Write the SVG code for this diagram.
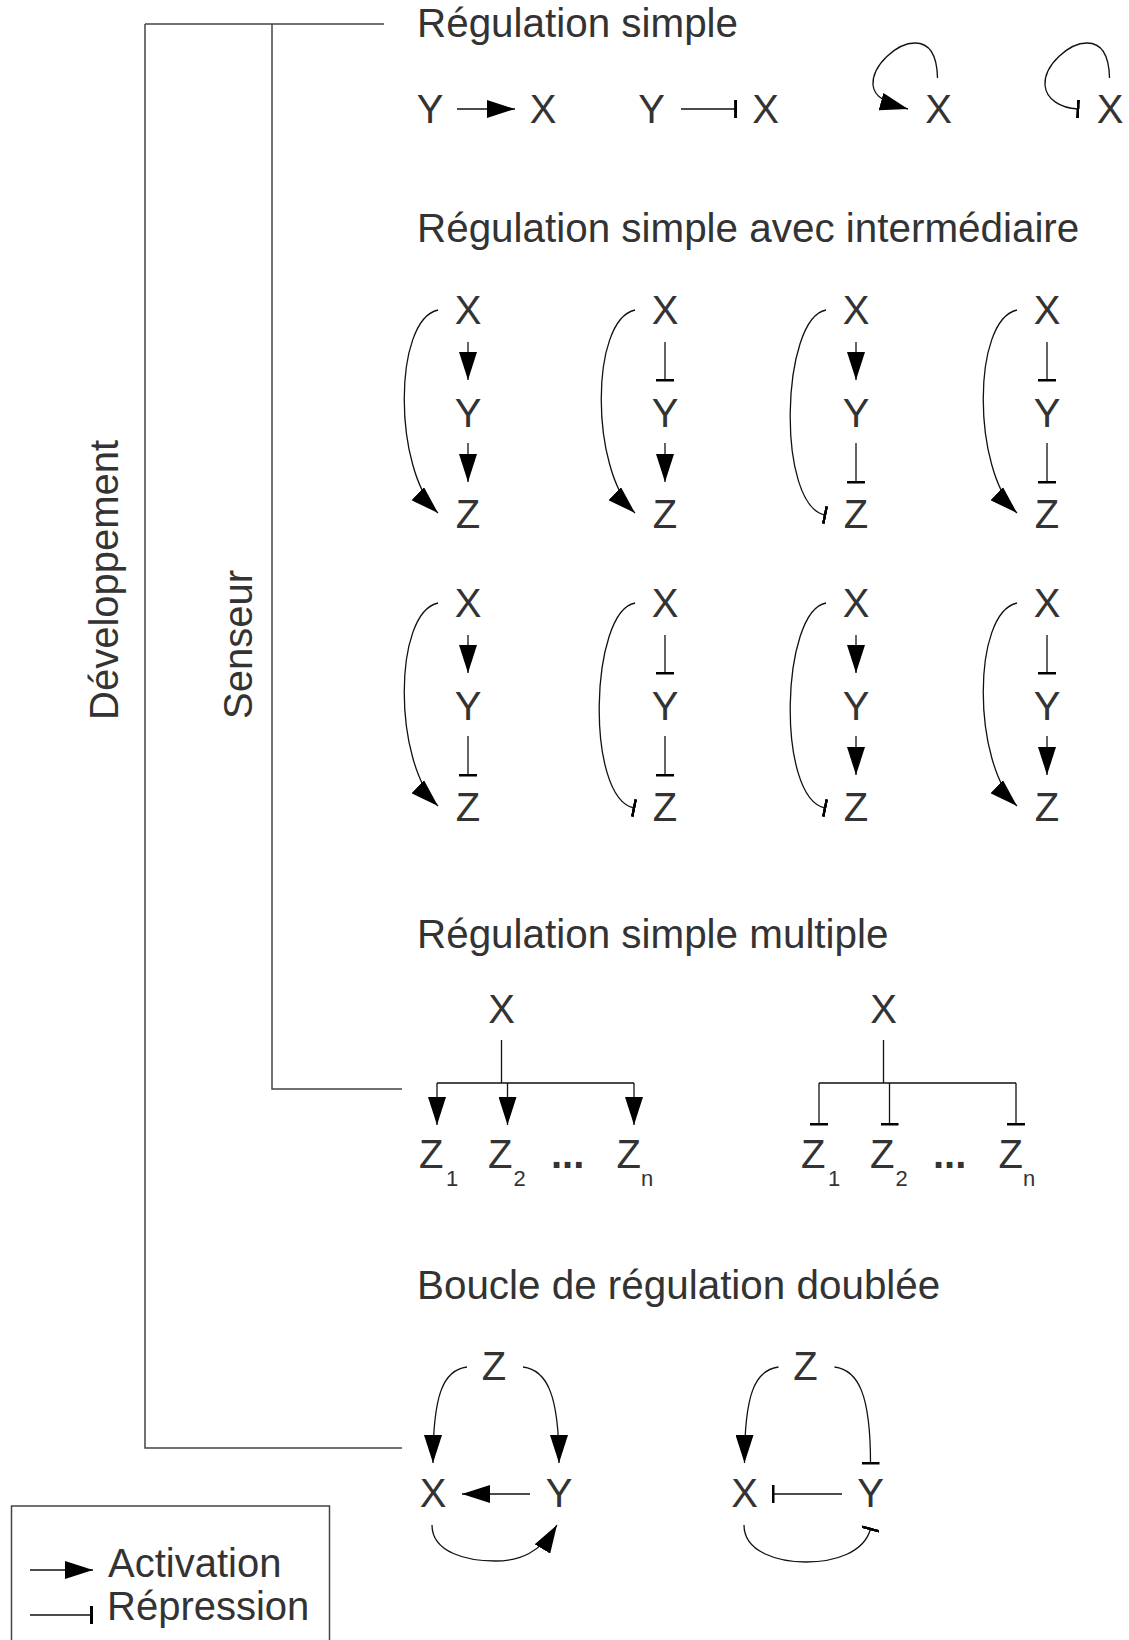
<svg xmlns="http://www.w3.org/2000/svg" width="1129" height="1640" viewBox="0 0 1129 1640">
<defs>
<style>
text{font-family:"Liberation Sans",Arial,sans-serif;font-size:40px;fill:#333}
.t{font-size:40.4px}
.n{text-anchor:middle}
.sub{font-size:22px}
.dots{font-weight:bold}
.frame{fill:none;stroke:#444;stroke-width:1.5}
.c{fill:none;stroke:#111;stroke-width:1.3}
.a{marker-end:url(#act)}
.r{marker-end:url(#rep)}
</style>
<marker id="act" markerUnits="userSpaceOnUse" viewBox="0 0 28 18" markerWidth="28" markerHeight="18" refX="28" refY="9" orient="auto"><path d="M0,0 L28,9 L0,18 Z" fill="#000"/></marker>
<marker id="rep" markerUnits="userSpaceOnUse" viewBox="0 0 3 18" markerWidth="3" markerHeight="18" refX="1.5" refY="9" orient="auto"><rect width="3" height="18" fill="#000"/></marker>
</defs>
<rect width="1129" height="1640" fill="#fff"/>

<g id="frame">
<path class="frame" d="M145,24 H384"/>
<path class="frame" d="M145,24 V1448 H402"/>
<path class="frame" d="M272,24 V1089 H402"/>
<rect class="frame" x="11.5" y="1506" width="318" height="160"/>
</g>

<g id="labels">
<text transform="translate(118,720) rotate(-90)">Développement</text>
<text transform="translate(252,719) rotate(-90)">Senseur</text>
<text class="t" x="417" y="37">Régulation simple</text>
<text class="t" x="417" y="242">Régulation simple avec intermédiaire</text>
<text class="t" x="417" y="948">Régulation simple multiple</text>
<text class="t" x="417" y="1299">Boucle de régulation doublée</text>
</g>

<g id="connectors">
<!-- row 1 -->
<path class="c a" d="M457,109 H515"/>
<path class="c r" d="M681,109 H735.6"/>
<path class="c a" d="M937.5,78 C937,52 928,43 915,43 C897,43 872,65 873,85 C874,97 886,103 908,109"/>
<path class="c r" d="M1109.5,78 C1109,52 1100,43 1087,43 C1069,43 1044,65 1045,85 C1046,99 1060,108 1078,109"/>

<!-- intermediate row a -->
<path class="c a" d="M468,342 V380"/><path class="c a" d="M468,443 V482"/><path class="c a" d="M438,310 C393,320 393,470 438,513"/>
<path class="c r" d="M665,342 V380"/><path class="c a" d="M665,443 V482"/><path class="c a" d="M635,310 C590,320 590,470 635,513"/>
<path class="c a" d="M856,342 V380"/><path class="c r" d="M856,443 V482"/><path class="c r" d="M826,310 C781,318 776,505 825,515"/>
<path class="c r" d="M1047,342 V380"/><path class="c r" d="M1047,443 V482"/><path class="c a" d="M1017,310 C972,320 972,470 1017,513"/>
<!-- intermediate row b -->
<path class="c a" d="M468,635 V673"/><path class="c r" d="M468,736 V775"/><path class="c a" d="M438,603 C393,613 393,763 438,806"/>
<path class="c r" d="M665,635 V673"/><path class="c r" d="M665,736 V775"/><path class="c r" d="M635,603 C590,611 585,798 634,808"/>
<path class="c a" d="M856,635 V673"/><path class="c a" d="M856,736 V775"/><path class="c r" d="M826,603 C781,611 776,798 825,808"/>
<path class="c r" d="M1047,635 V673"/><path class="c a" d="M1047,736 V775"/><path class="c a" d="M1017,603 C972,613 972,763 1017,806"/>

<!-- multiple -->
<path class="c" d="M501.5,1040 V1083 M437,1083 H634"/>
<path class="c a" d="M437,1083 V1125"/><path class="c a" d="M507.5,1083 V1125"/><path class="c a" d="M634,1083 V1125"/>
<path class="c" d="M883.5,1040 V1083 M819,1083 H1016"/>
<path class="c r" d="M819,1083 V1124"/><path class="c r" d="M889.5,1083 V1124"/><path class="c r" d="M1016,1083 V1124"/>

<!-- boucle left -->
<path class="c a" d="M530,1494 H462"/>
<path class="c a" d="M467,1367 C443,1370 433,1395 433,1463"/>
<path class="c a" d="M523,1367 C547,1370 559,1395 559,1463"/>
<path class="c a" d="M432,1525 C432,1553 468,1561 495,1561 C520,1561 540,1553 557,1525"/>
<!-- boucle right -->
<path class="c r" d="M842,1494 H773"/>
<path class="c a" d="M778.5,1367 C754.5,1370 744.5,1395 744.5,1463"/>
<path class="c r" d="M834.5,1367 C858.5,1370 870.5,1395 870.5,1463"/>
<path class="c r" d="M744,1525 C744,1553 780,1562 806,1562 C834,1562 864,1553 870.5,1529"/>

<!-- legend -->
<path class="c a" d="M30,1570 H93"/>
<path class="c r" d="M30,1615 H91.5"/>
</g>

<g id="r1-y1"><text class="n" x="430" y="123">Y</text></g>
<g id="r1-x1"><text class="n" x="543" y="123">X</text></g>
<g id="r1-y2"><text class="n" x="651.5" y="123">Y</text></g>
<g id="r1-x2"><text class="n" x="765.5" y="123">X</text></g>
<g id="r1-x3"><text class="n" x="938.5" y="123">X</text></g>
<g id="r1-x4"><text class="n" x="1110" y="123">X</text></g>

<g id="ia1-x"><text class="n" x="468" y="324">X</text></g>
<g id="ia1-y"><text class="n" x="468" y="427">Y</text></g>
<g id="ia1-z"><text class="n" x="468" y="527.5">Z</text></g>
<g id="ia2-x"><text class="n" x="665" y="324">X</text></g>
<g id="ia2-y"><text class="n" x="665" y="427">Y</text></g>
<g id="ia2-z"><text class="n" x="665" y="527.5">Z</text></g>
<g id="ia3-x"><text class="n" x="856" y="324">X</text></g>
<g id="ia3-y"><text class="n" x="856" y="427">Y</text></g>
<g id="ia3-z"><text class="n" x="856" y="527.5">Z</text></g>
<g id="ia4-x"><text class="n" x="1047" y="324">X</text></g>
<g id="ia4-y"><text class="n" x="1047" y="427">Y</text></g>
<g id="ia4-z"><text class="n" x="1047" y="527.5">Z</text></g>

<g id="ib1-x"><text class="n" x="468" y="617">X</text></g>
<g id="ib1-y"><text class="n" x="468" y="720">Y</text></g>
<g id="ib1-z"><text class="n" x="468" y="820.5">Z</text></g>
<g id="ib2-x"><text class="n" x="665" y="617">X</text></g>
<g id="ib2-y"><text class="n" x="665" y="720">Y</text></g>
<g id="ib2-z"><text class="n" x="665" y="820.5">Z</text></g>
<g id="ib3-x"><text class="n" x="856" y="617">X</text></g>
<g id="ib3-y"><text class="n" x="856" y="720">Y</text></g>
<g id="ib3-z"><text class="n" x="856" y="820.5">Z</text></g>
<g id="ib4-x"><text class="n" x="1047" y="617">X</text></g>
<g id="ib4-y"><text class="n" x="1047" y="720">Y</text></g>
<g id="ib4-z"><text class="n" x="1047" y="820.5">Z</text></g>

<g id="m1-x"><text class="n" x="501.5" y="1023">X</text></g>
<g id="m1-z1"><text x="419" y="1168">Z</text><text class="sub" x="446" y="1186">1</text></g>
<g id="m1-z2"><text x="488" y="1168">Z</text><text class="sub" x="513.5" y="1186">2</text></g>
<g id="m1-dots"><text class="dots" x="551" y="1168">...</text></g>
<g id="m1-zn"><text x="616.5" y="1168">Z</text><text class="sub" x="641" y="1186">n</text></g>

<g id="m2-x"><text class="n" x="883.5" y="1023">X</text></g>
<g id="m2-z1"><text x="801" y="1168">Z</text><text class="sub" x="828" y="1186">1</text></g>
<g id="m2-z2"><text x="870" y="1168">Z</text><text class="sub" x="895.5" y="1186">2</text></g>
<g id="m2-dots"><text class="dots" x="933" y="1168">...</text></g>
<g id="m2-zn"><text x="998.5" y="1168">Z</text><text class="sub" x="1023" y="1186">n</text></g>

<g id="b1-z"><text class="n" x="494" y="1380">Z</text></g>
<g id="b1-x"><text class="n" x="433" y="1507">X</text></g>
<g id="b1-y"><text class="n" x="559" y="1507">Y</text></g>
<g id="b2-z"><text class="n" x="805.5" y="1380">Z</text></g>
<g id="b2-x"><text class="n" x="744.5" y="1507">X</text></g>
<g id="b2-y"><text class="n" x="870.5" y="1507">Y</text></g>

<g id="legend">
<text x="108" y="1577">Activation</text>
<text x="107" y="1620">Répression</text>
</g>
</svg>
